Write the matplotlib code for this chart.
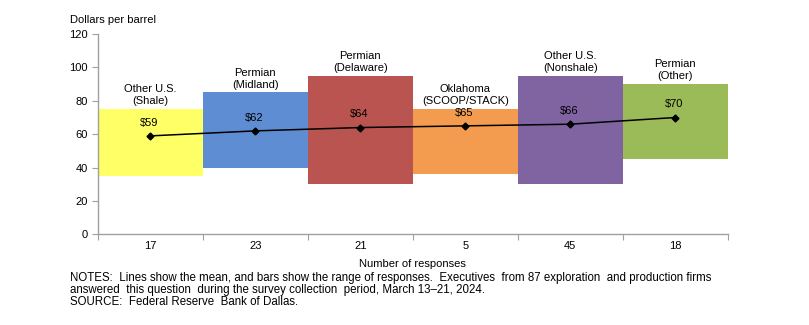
import matplotlib
matplotlib.use("Agg")
from matplotlib import pyplot as plt
import numpy as np

plt.rcParams['font.family'] = ['Liberation Sans', 'DejaVu Sans']

# data
regions = ['Other U.S.\n(Shale)', 'Permian\n(Midland)', 'Permian\n(Delaware)',
           'Oklahoma\n(SCOOP/STACK)', 'Other U.S.\n(Nonshale)', 'Permian\n(Other)']
responses = ['17', '23', '21', '5', '45', '18']
low = [35, 40, 30, 36, 30, 45]
high = [75, 85, 95, 75, 95, 90]
mean = [59, 62, 64, 65, 66, 70]
colors = ['#FFFF66', '#5F8DD3', '#BA5450', '#F39C4F', '#8064A2', '#9BBB59']

fig = plt.figure(figsize=(8.09, 3.25), dpi=100)
ax = fig.add_axes([0.1208, 0.2785, 0.7787, 0.617])

x = np.arange(len(regions))
hgt = [h - l for h, l in zip(high, low)]
ax.bar(x, hgt, bottom=low, width=1.0, color=colors, edgecolor='none', zorder=1)
ax.plot(x, mean, color='black', lw=1.1, marker='D', markersize=3.5, zorder=3)

for i in range(len(x)):
    ax.annotate(regions[i], (x[i], high[i]), xytext=(0, 2), textcoords='offset points',
                ha='center', va='bottom', fontsize=8, linespacing=1.25)
    ax.annotate('$%d' % mean[i], (x[i], mean[i]), xytext=(-1, 6), textcoords='offset points',
                ha='center', va='bottom', fontsize=8)

ax.set_xlim(-0.5, len(x) - 0.5)
ax.set_ylim(0, 120)
ax.set_yticks(range(0, 121, 20))
ax.set_xticks(np.arange(-0.5, len(x)), minor=False)
ax.set_xticklabels([])
ax.set_xticks(x, minor=True)
ax.set_xticklabels(responses, minor=True)
ax.tick_params(axis='x', which='minor', length=0, pad=5, labelsize=8)
ax.tick_params(axis='x', which='major', length=4, color='#A0A0A0', direction='out')
ax.tick_params(axis='y', length=4, color='#A0A0A0', labelsize=8, pad=3)
for s in ['top', 'right']:
    ax.spines[s].set_visible(False)
for s in ['left', 'bottom']:
    ax.spines[s].set_color('#A0A0A0')
    ax.spines[s].set_linewidth(1)

fig.text(70 / 809, 1 - 20 / 325, 'Dollars per barrel', fontsize=8, va='center', ha='left')
fig.text(412 / 809, 1 - 264 / 325, 'Number of responses', fontsize=8, va='center', ha='center')

notes = ['NOTES:  Lines show the mean, and bars show the range of responses.  Executives  from 87 exploration  and production firms',
         'answered  this question  during the survey collection  period, March 13\u201321, 2024.',
         'SOURCE:  Federal Reserve  Bank of Dallas.']
for i, line in enumerate(notes):
    fig.text(70 / 809, 1 - (278 + 12 * i) / 325, line, fontsize=8.3, va='center', ha='left')

plt.savefig('out.png', dpi=100)
